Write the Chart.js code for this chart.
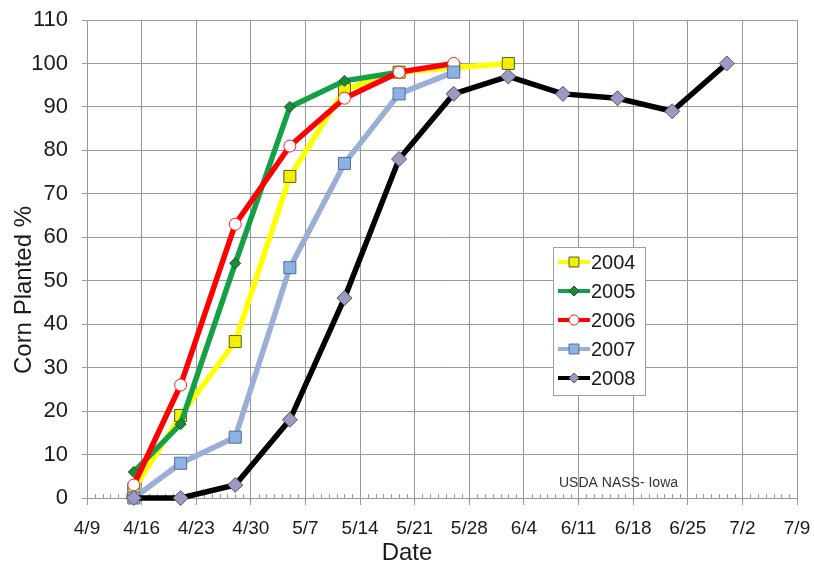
<!DOCTYPE html>
<html>
<head>
<meta charset="utf-8">
<script src="https://cdn.jsdelivr.net/npm/chart.js@4.4.1/dist/chart.umd.min.js"></script>
<style>
html,body{margin:0;padding:0;background:#fff;}
#wrap{width:814px;height:567px;position:relative;}
</style>
</head>
<body>
<div id="wrap"><canvas id="c" width="814" height="567"></canvas></div>
<script>
// ---- data ----
const axisStart = '4/9';
const xTickLabels = ['4/9','4/16','4/23','4/30','5/7','5/14','5/21','5/28','6/4','6/11','6/18','6/25','7/2','7/9'];
const dates = ['4/15','4/21','4/28','5/5','5/12','5/19','5/26','6/2','6/9','6/16','6/23','6/30'];
const y2004 = [2, 19, 36, 74, 94, 98, 99, 100];
const y2005 = [6, 17, 54, 90, 96, 98];
const y2006 = [3, 26, 63, 81, 92, 98, 100];
const y2007 = [0, 8, 14, 53, 77, 93, 98];
const y2008 = [0, 0, 3, 18, 46, 78, 93, 97, 93, 92, 89, 100];
const seriesNames = ['2004','2005','2006','2007','2008'];
const yTitle = 'Corn Planted %';
const xTitle = 'Date';
const sourceNote = 'USDA NASS- Iowa';

function dayOffset(s){
  const a = s.split('/').map(Number), b = axisStart.split('/').map(Number);
  return (Date.UTC(2008, a[0]-1, a[1]) - Date.UTC(2008, b[0]-1, b[1])) / 864e5;
}
function pts(vals){ return vals.map((v,i)=>({x: dayOffset(dates[i]), y: v})); }
const xMax = dayOffset(xTickLabels[xTickLabels.length-1]);

const FONT = "'Liberation Sans', Arial, sans-serif";

const styles = [
  {line:'#FFFF00', fill:'#F0F000', edge:'#5a5a20', ps:'rect', r:8.5, lr:7, order:5},
  {line:'#14A046', fill:'#1C8A3A', edge:'#0E5A26', ps:'rectRot', r:5.5, lr:5, order:4},
  {line:'#FF0000', fill:'#FFFFFF', edge:'#FF2020', ps:'circle', r:6, lr:5, order:3},
  {line:'#9AAED8', fill:'#8CB2E4', edge:'#4E6E9E', ps:'rect', r:8.5, lr:7, order:2},
  {line:'#000000', fill:'#9C99C2', edge:'#55556a', ps:'rectRot', r:7.5, lr:5, order:1}
];
const allVals = [y2004, y2005, y2006, y2007, y2008];

const datasets = allVals.map((v,i)=>({
  label: seriesNames[i],
  data: pts(v),
  borderColor: styles[i].line,
  borderWidth: 5.5,
  pointStyle: styles[i].ps,
  pointRadius: styles[i].r,
  pointBackgroundColor: styles[i].fill,
  pointBorderColor: styles[i].edge,
  pointBorderWidth: 1,
  tension: 0,
  clip: false,
  order: styles[i].order
}));

function drawMarker(ctx, st, x, y, r){
  ctx.save();
  ctx.fillStyle = st.fill; ctx.strokeStyle = st.edge; ctx.lineWidth = 1;
  ctx.beginPath();
  if (st.ps === 'rect'){
    const s = r * Math.SQRT1_2; ctx.rect(x - s, y - s, 2*s, 2*s);
  } else if (st.ps === 'rectRot'){
    ctx.moveTo(x, y - r); ctx.lineTo(x + r, y); ctx.lineTo(x, y + r); ctx.lineTo(x - r, y); ctx.closePath();
  } else {
    ctx.arc(x, y, r, 0, Math.PI*2);
  }
  ctx.fill(); ctx.stroke();
  ctx.restore();
}

const decor = {
  id: 'decor',
  beforeDatasetsDraw(chart){
    const ctx = chart.ctx, xs = chart.scales.x, a = chart.chartArea;
    ctx.save();
    ctx.strokeStyle = '#9a9a9a'; ctx.lineWidth = 1;
    for (let d = 1; d < xMax; d++){
      if (d % 7 === 0) continue;
      const px = Math.round(xs.getPixelForValue(d)) + 0.5;
      ctx.beginPath(); ctx.moveTo(px, a.bottom); ctx.lineTo(px, a.bottom - 4); ctx.stroke();
    }
    ctx.restore();
  },
  afterDraw(chart){
    const ctx = chart.ctx, a = chart.chartArea;
    ctx.save();
    // axis titles
    ctx.fillStyle = '#1a1a1a';
    ctx.font = '24px ' + FONT;
    ctx.textAlign = 'center'; ctx.textBaseline = 'middle';
    ctx.translate(24, (a.top + a.bottom)/2 + 31);
    ctx.rotate(-Math.PI/2);
    ctx.fillText(yTitle, 0, 0);
    ctx.restore();
    ctx.save();
    ctx.fillStyle = '#1a1a1a';
    ctx.font = '24px ' + FONT;
    ctx.textAlign = 'center'; ctx.textBaseline = 'middle';
    ctx.fillText(xTitle, (a.left + a.right)/2 - 35, 553);
    // source note
    ctx.font = '14px ' + FONT;
    ctx.fillStyle = '#333';
    ctx.textAlign = 'left';
    ctx.fillText(sourceNote, 559, 483);
    // legend
    const lx = 553, ly = 247, lw = 92, lh = 148;
    ctx.fillStyle = '#fff';
    ctx.fillRect(lx, ly, lw, lh);
    ctx.strokeStyle = '#a0a0a0'; ctx.lineWidth = 1;
    ctx.strokeRect(lx + 0.5, ly + 0.5, lw, lh);
    ctx.font = '20px ' + FONT;
    ctx.textBaseline = 'middle';
    chart.data.datasets.forEach((ds, i)=>{
      const yy = ly + 15 + i * 29;
      const st = styles[i];
      ctx.strokeStyle = st.line; ctx.lineWidth = 4;
      ctx.beginPath(); ctx.moveTo(lx + 5, yy); ctx.lineTo(lx + 37, yy); ctx.stroke();
      drawMarker(ctx, st, lx + 21, yy, st.lr);
      ctx.fillStyle = '#1a1a1a';
      ctx.fillText(ds.label, lx + 38, yy + 1);
    });
    ctx.restore();
  }
};

new Chart(document.getElementById('c'), {
  type: 'line',
  data: { datasets },
  plugins: [decor],
  options: {
    responsive: false,
    animation: false,
    devicePixelRatio: 1,
    layout: { padding: { left: 0, right: 17, top: 20, bottom: 0 } },
    plugins: { legend: { display: false }, tooltip: { enabled: false } },
    scales: {
      x: {
        type: 'linear', min: 0, max: xMax,
        afterFit(s){ s.height = 69; s.paddingLeft = 0; s.paddingRight = 0; },
        afterBuildTicks(s){ s.ticks = xTickLabels.map((t,i)=>({value: i*7})); },
        ticks: {
          autoSkip: false, maxRotation: 0, padding: 12,
          color: '#1a1a1a', font: { family: FONT, size: 19 },
          callback(v){ const i = Math.round(v/7); return xTickLabels[i]; }
        },
        grid: { color: '#999999', lineWidth: 1, tickLength: 7, tickColor: '#999999' },
        border: { color: '#999999' }
      },
      y: {
        min: 0, max: 110,
        afterFit(s){ s.width = 87; s.paddingTop = 0; s.paddingBottom = 0; },
        ticks: { stepSize: 10, padding: 14, color: '#1a1a1a', font: { family: FONT, size: 22 } },
        grid: { color: '#999999', lineWidth: 1, tickLength: 5, tickColor: '#999999' },
        border: { color: '#999999' }
      }
    }
  }
});
</script>
</body>
</html>
